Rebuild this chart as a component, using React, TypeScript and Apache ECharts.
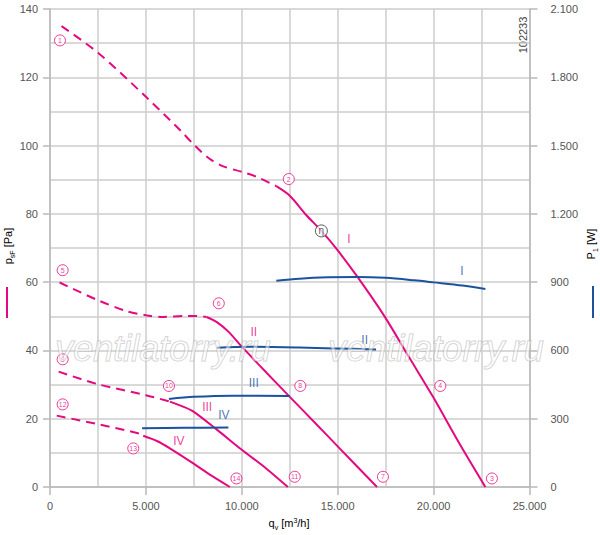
import React, { useEffect, useRef } from "react";
import * as echarts from "echarts";

// ---- data (qv in m3/h, pressure in Pa, power in W) ----
const xTicks = [0, 5000, 10000, 15000, 20000, 25000];
const pressureTicks = [0, 20, 40, 60, 80, 100, 120, 140];
const powerTicks = [0, 300, 600, 900, 1200, 1500, 1800, 2100];

const curveIDashed = [[600, 135], [2500, 127.2], [5000, 114.3], [6800, 104.4], [7550, 100], [8300, 96.2], [9000, 94], [10000, 92.3], [10800, 90.8], [11800, 88.1]];
const curveISolid = [[11800, 88.1], [12500, 85.3], [13370, 79.6], [14150, 75.0], [14930, 69.8], [16060, 61.3], [17450, 49.9], [18700, 38.2], [19970, 26.4], [21300, 13.2], [22700, 0]];
const curveIIDashed = [[500, 59.9], [2500, 54.7], [4000, 51.5], [5000, 50.3], [5900, 49.8], [7000, 50.1], [7500, 50.1], [8160, 49.8]];
const curveIISolid = [[8160, 49.8], [8700, 48.3], [9300, 45.5], [10000, 41.1], [11300, 33.4], [12500, 26.4], [13800, 18.9], [15000, 11.9], [17050, 0]];
const curveIIIDashed = [[450, 33.8], [2500, 30.1], [5000, 26.9], [6250, 25.0]];
const curveIIISolid = [[6250, 25.0], [7000, 23.4], [7500, 22.0], [8700, 16.8], [10000, 10.9], [11300, 5.3], [12400, 0]];
const curveIVDashed = [[350, 20.9], [2500, 18.4], [4700, 15.6], [4860, 15.0]];
const curveIVSolid = [[4860, 15.0], [5600, 13.4], [6250, 11.3], [7470, 6.9], [8400, 3.4], [9380, 0]];

const powerI = [[11800, 906], [13000, 915], [14500, 921], [16000, 923], [17500, 919], [19000, 908], [20000, 899], [21500, 885], [22700, 870]];
const powerII = [[8700, 612], [10400, 616], [13000, 613], [14800, 609], [17000, 604]];
const powerIII = [[6200, 387], [7500, 396], [9500, 401], [12500, 400]];
const powerIV = [[4800, 258], [7000, 260], [9300, 261]];

const pointLabels = [
  ["1", 520, 130.8], ["2", 12450, 90.2], ["3", 23040, 2.5], ["4", 20350, 29.6],
  ["5", 660, 63.5], ["6", 8800, 53.8], ["7", 17360, 3.0], ["8", 13050, 29.6],
  ["9", 660, 37.4], ["10", 6200, 29.6], ["11", 12760, 3.0], ["12", 660, 24.2],
  ["13", 4340, 11.3], ["14", 9720, 2.5],
];
const etaPoint = [["η", 14150, 75.0]];
const pressureCurveNames = [["I", 15590, 72.5], ["II", 10625, 45.3], ["III", 8194, 23.5], ["IV", 6719, 13.5]];
const powerCurveNames = [["I", 21476, 950], ["II", 16406, 648], ["III", 10625, 458], ["IV", 9063, 316]];

const PINK = "#e5097f";
const BLUE = "#1b52a0";
const GRID = "#cccccc";
const AXIS = "#b8b8b8";
const FONT = '"Liberation Sans", Arial, sans-serif';

const fmt = (v: number) => String(v).replace(/\B(?=(\d{3})+(?!\d))/g, ".");

export default function App() {
  const ref = useRef<HTMLDivElement>(null);
  useEffect(() => {
    if (!ref.current) return;
    const chart = echarts.init(ref.current, null, { renderer: "svg" });

    const pLine = (data: number[][], dashed: boolean) => ({
      type: "line",
      yAxisIndex: 0,
      data,
      smooth: 0.3,
      symbol: "none",
      lineStyle: { color: PINK, width: 2, type: dashed ? [9, 6] : "solid" },
      z: 3,
    });
    const wLine = (data: number[][]) => ({
      type: "line",
      yAxisIndex: 1,
      data,
      smooth: 0.3,
      symbol: "none",
      lineStyle: { color: BLUE, width: 2 },
      z: 3,
    });
    const nameSeries = (list: any[], axis: number, color: string) => ({
      type: "scatter",
      yAxisIndex: axis,
      symbolSize: 1,
      itemStyle: { color: "rgba(0,0,0,0)" },
      data: list.map((d) => ({ name: d[0], value: [d[1], d[2]] })),
      label: { show: true, position: "inside", formatter: "{b}", color, fontSize: 12, fontFamily: FONT },
      z: 5,
    });

    const rich = {
      a: { fontSize: 11, fontFamily: FONT, color: "#555", padding: [0, 0, 3, 0], verticalAlign: "bottom" },
      s: { fontSize: 7, fontFamily: FONT, color: "#555", verticalAlign: "bottom" },
      u: { fontSize: 7, fontFamily: FONT, color: "#555", verticalAlign: "top" },
    };
    const watermark = (x: number) => ({
      type: "text",
      x,
      y: 348,
      z: 100,
      silent: true,
      style: {
        text: "ventilatorry.ru",
        fontSize: 36,
        fontStyle: "italic",
        fontFamily: FONT,
        fill: "rgba(255,255,255,0.5)",
        stroke: "rgba(150,150,150,0.55)",
        lineWidth: 1,
        align: "center",
        verticalAlign: "middle",
      },
    });

    chart.setOption({
      animation: false,
      grid: { left: 50, right: 70.5, top: 9, bottom: 48 },
      xAxis: {
        type: "value",
        min: 0,
        max: 25000,
        interval: 5000,
        axisLine: { show: true, lineStyle: { color: AXIS, width: 1.5 } },
        axisTick: { show: true, length: 8, lineStyle: { color: AXIS, width: 1.5 } },
        axisLabel: { color: "#555", fontSize: 11, fontFamily: FONT, margin: 13, formatter: (v: number) => (xTicks.includes(v) ? fmt(v) : "") },
        splitLine: { show: true, lineStyle: { color: GRID, width: 1.5 } },
        minorTick: { show: false, splitNumber: 2 },
        minorSplitLine: { show: true, lineStyle: { color: GRID, width: 1.5 } },
      },
      yAxis: [
        {
          type: "value",
          min: 0,
          max: 140,
          interval: 20,
          axisLine: { show: true, lineStyle: { color: AXIS, width: 1.5 } },
          axisTick: { show: true, length: 7, lineStyle: { color: AXIS, width: 1.5 } },
          axisLabel: { color: "#555", fontSize: 11, fontFamily: FONT, margin: 12, formatter: (v: number) => (pressureTicks.includes(v) ? fmt(v) : "") },
          splitLine: { show: true, lineStyle: { color: GRID, width: 1.5 } },
          minorTick: { show: false, splitNumber: 2 },
          minorSplitLine: { show: true, lineStyle: { color: GRID, width: 1.5 } },
        },
        {
          type: "value",
          position: "right",
          min: 0,
          max: 2100,
          interval: 300,
          axisLine: { show: true, lineStyle: { color: AXIS, width: 1.5 } },
          axisTick: { show: true, length: 8, lineStyle: { color: AXIS, width: 1.5 } },
          axisLabel: { color: "#555", fontSize: 11, fontFamily: FONT, margin: 21, formatter: (v: number) => (powerTicks.includes(v) ? fmt(v) : "") },
          splitLine: { show: false },
        },
      ],
      series: [
        pLine(curveIDashed, true),
        pLine(curveISolid, false),
        pLine(curveIIDashed, true),
        pLine(curveIISolid, false),
        pLine(curveIIIDashed, true),
        pLine(curveIIISolid, false),
        pLine(curveIVDashed, true),
        pLine(curveIVSolid, false),
        wLine(powerI),
        wLine(powerII),
        wLine(powerIII),
        wLine(powerIV),
        {
          type: "scatter",
          yAxisIndex: 0,
          symbol: "circle",
          symbolSize: 11,
          itemStyle: { color: "#ffffff", borderColor: PINK, borderWidth: 1 },
          data: pointLabels.map((d) => ({ name: d[0], value: [d[1], d[2]] })),
          label: { show: true, position: "inside", formatter: "{b}", color: PINK, fontSize: 7, fontFamily: FONT },
          z: 6,
        },
        {
          type: "scatter",
          yAxisIndex: 0,
          symbol: "circle",
          symbolSize: 12,
          itemStyle: { color: "#ffffff", borderColor: "#333", borderWidth: 1 },
          data: etaPoint.map((d) => ({ name: d[0], value: [d[1], d[2]] })),
          label: { show: true, position: "inside", formatter: "{b}", color: "#333", fontSize: 10, fontFamily: FONT },
          z: 6,
        },
        nameSeries(pressureCurveNames, 0, PINK),
        nameSeries(powerCurveNames, 1, BLUE),
      ],
      graphic: [
        {
          type: "text",
          x: 9,
          y: 246,
          rotation: Math.PI / 2,
          style: { text: "{a|p}{s|sF}{a| [Pa]}", rich, align: "center", verticalAlign: "middle" },
        },
        { type: "line", shape: { x1: 7, y1: 287, x2: 7, y2: 318 }, style: { stroke: PINK, lineWidth: 2 } },
        {
          type: "text",
          x: 592,
          y: 244,
          rotation: Math.PI / 2,
          style: { text: "{a|P}{s|1}{a| [W]}", rich, align: "center", verticalAlign: "middle" },
        },
        { type: "line", shape: { x1: 593, y1: 286, x2: 593, y2: 318 }, style: { stroke: BLUE, lineWidth: 2 } },
        {
          type: "text",
          x: 289,
          y: 524,
          style: { text: "{a|q}{s|v}{a| [m}{u|3}{a|/h]}", rich, align: "center", verticalAlign: "middle" },
        },
        {
          type: "text",
          x: 523,
          y: 35,
          rotation: Math.PI / 2,
          style: { text: "102233", fontSize: 11, fontFamily: FONT, fill: "#444", align: "center", verticalAlign: "middle" },
        },
        watermark(163),
        watermark(436),
      ],
    });
    return () => chart.dispose();
  }, []);
  return <div ref={ref} style={{ position: "fixed", left: 0, top: 0, width: 600, height: 535, background: "#fff" }} />;
}
